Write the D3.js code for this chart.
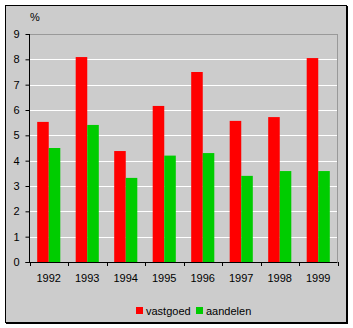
<!DOCTYPE html>
<html><head><meta charset="utf-8">
<script src="https://cdn.jsdelivr.net/npm/d3@7"></script>
<style>body{margin:0;background:#fff}svg{display:block}text{font-family:Arial,"Liberation Sans",sans-serif;font-size:11px;fill:#000}</style>
</head><body>
<script>
const years = ["1992","1993","1994","1995","1996","1997","1998","1999"];
const vastgoed = [5.53, 8.09, 4.38, 6.16, 7.5, 5.57, 5.72, 8.05];
const aandelen = [4.5, 5.41, 3.32, 4.2, 4.3, 3.4, 3.59, 3.59];
const seriesNames = ["vastgoed", "aandelen"];
const seriesColors = ["#ff0000", "#00cc00"];
const yTicks = [0,1,2,3,4,5,6,7,8,9];

(function(){
const W = 353, H = 328;
const svg = d3.select("body").append("svg").attr("width", W).attr("height", H);

// chart area background + border
svg.append("rect").attr("x",5.5).attr("y",5.5).attr("width",341).attr("height",317).attr("fill","#cccccc").attr("stroke","#000").attr("stroke-width",1);
svg.append("line").attr("x1",347.5).attr("x2",347.5).attr("y1",6).attr("y2",324).attr("stroke","#000");
svg.append("line").attr("x1",6).attr("x2",348).attr("y1",323.5).attr("y2",323.5).attr("stroke","#000");

const pL = 29.5, pR = 337.5, pT = 34, pB = 262;
const x = d3.scaleBand().domain(years).range([pL, pR]).paddingInner(0).paddingOuter(0);
const y = d3.scaleLinear().domain([0, 9]).range([pB, pT]);
const inner = 0.6;
const xs = d3.scaleBand().domain(seriesNames).range([x.bandwidth()*(1-inner)/2, x.bandwidth()*(1+inner)/2]);

// plot frame (gray top/right)
svg.append("line").attr("x1",pL).attr("x2",pR).attr("y1",pT+0.5).attr("y2",pT+0.5).attr("stroke","#999");
svg.append("line").attr("x1",pR).attr("x2",pR).attr("y1",pT).attr("y2",pB).attr("stroke","#999");

// gridlines
svg.append("g").selectAll("line").data(yTicks.filter(d=>d>0 && d<9)).join("line")
  .attr("x1",pL).attr("x2",pR-0.5)
  .attr("y1",d=>Math.round(y(d))+0.5).attr("y2",d=>Math.round(y(d))+0.5)
  .attr("stroke","#fff");

// bars
const data = [vastgoed, aandelen];
data.forEach((vals, si) => {
  svg.append("g").selectAll("rect").data(vals).join("rect")
    .attr("x",(d,i)=>x(years[i]) + xs(seriesNames[si]))
    .attr("width", xs.bandwidth())
    .attr("y", d=>y(d))
    .attr("height", d=>pB - y(d))
    .attr("fill", seriesColors[si]);
});

// y axis
const yAxis = d3.axisLeft(y).tickValues(yTicks).tickSize(4).tickPadding(6).tickFormat(d3.format("d"));
const gy = svg.append("g").attr("transform",`translate(${pL},0)`).call(yAxis);
gy.select(".domain").attr("stroke","#000").attr("d",`M0,${pT}V${pB}`);
gy.selectAll(".tick line").attr("stroke","#000");
gy.selectAll("text").style("font-family","Arial, 'Liberation Sans', sans-serif").style("font-size","11px").attr("fill","#000");

// x axis
const xTickPos = years.map(d=>x(d)).concat([pR]);
svg.append("line").attr("x1",pL-4).attr("x2",pR).attr("y1",pB+0.5).attr("y2",pB+0.5).attr("stroke","#000");
svg.append("g").selectAll("line").data(xTickPos).join("line")
  .attr("x1",d=>Math.round(d)+0.5).attr("x2",d=>Math.round(d)+0.5)
  .attr("y1",pB).attr("y2",pB+4).attr("stroke","#000");
svg.append("g").selectAll("text").data(years).join("text")
  .attr("x",d=>x(d)+x.bandwidth()/2).attr("y",pB+20)
  .attr("text-anchor","middle").text(d=>d);

// % label
svg.append("text").attr("x",30).attr("y",21).text("%");

// legend
const leg = [{name:"vastgoed", x:136, color:seriesColors[0]},{name:"aandelen", x:196, color:seriesColors[1]}];
leg.forEach(l=>{
  svg.append("rect").attr("x",l.x).attr("y",307).attr("width",7).attr("height",7).attr("fill",l.color);
  svg.append("text").attr("x",l.x+10).attr("y",314.5).text(l.name);
});
})();
</script>
</body></html>
